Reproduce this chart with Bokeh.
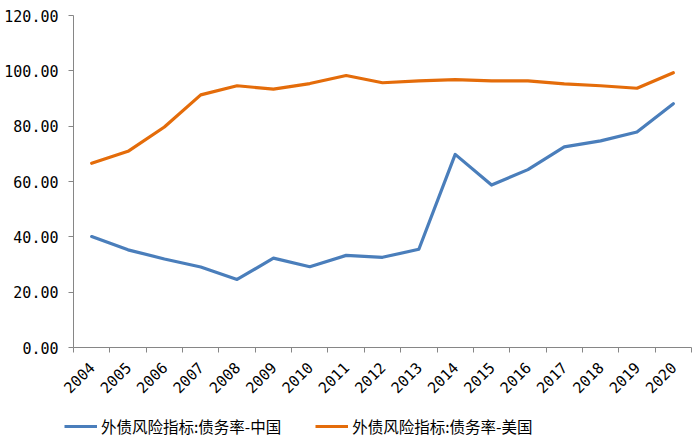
import math
from bokeh.plotting import figure
from bokeh.models import FixedTicker, Range1d, Legend, LegendItem, PrintfTickFormatter
from bokeh.embed import file_html
from bokeh.resources import INLINE

years = ["2004", "2005", "2006", "2007", "2008", "2009", "2010", "2011", "2012",
         "2013", "2014", "2015", "2016", "2017", "2018", "2019", "2020"]
china = [40.1, 35.3, 32.0, 29.1, 24.6, 32.3, 29.2, 33.3, 32.6, 35.5, 69.8, 58.7,
         64.3, 72.5, 74.7, 77.9, 88.1]
usa = [66.6, 70.9, 79.7, 91.3, 94.6, 93.4, 95.4, 98.3, 95.7, 96.4, 96.8, 96.4,
       96.4, 95.3, 94.6, 93.7, 99.3]
series_names = ["外债风险指标:债务率-中国", "外债风险指标:债务率-美国"]
y_ticks = [0, 20, 40, 60, 80, 100, 120]

FONT = "Noto Sans CJK SC"
NUM_FONT = "DejaVu Sans Mono"
AXIS_COLOR = "#868686"
BLUE = "#4A7EBB"
ORANGE = "#E46C0A"

xs = [i + 0.5 for i in range(len(years))]

p = figure(width=700, height=405, output_backend="svg", toolbar_location=None,
           x_range=Range1d(0, len(years)), y_range=Range1d(0, 120),
           min_border_left=73, min_border_right=9, min_border_top=15,
           min_border_bottom=58)
p.outline_line_color = None
p.xgrid.grid_line_color = None
p.ygrid.grid_line_color = None

p.line(xs, china, line_color=BLUE, line_width=3.2, line_join="round", line_cap="round")
p.line(xs, usa, line_color=ORANGE, line_width=3.2, line_join="round", line_cap="round")

# x axis
p.xaxis.ticker = FixedTicker(ticks=xs, minor_ticks=list(range(len(years) + 1)))
p.xaxis.major_label_overrides = {x: y for x, y in zip(xs, years)}
p.xaxis.major_label_orientation = math.pi / 4
p.xaxis.major_tick_line_color = None
p.xaxis.major_tick_out = 0
p.xaxis.major_tick_in = 0
p.xaxis.minor_tick_out = 5
p.xaxis.minor_tick_in = 0
p.xaxis.minor_tick_line_color = AXIS_COLOR
p.xaxis.axis_line_color = AXIS_COLOR
p.xaxis.major_label_text_font = NUM_FONT
p.xaxis.major_label_text_font_size = "15px"
p.xaxis.major_label_text_color = "#000000"
p.xaxis.major_label_standoff = 12

# y axis
p.yaxis.ticker = FixedTicker(ticks=y_ticks)
p.yaxis.formatter = PrintfTickFormatter(format="%.2f")
p.yaxis.major_tick_out = 5
p.yaxis.major_tick_in = 0
p.yaxis.minor_tick_line_color = None
p.yaxis.major_tick_line_color = AXIS_COLOR
p.yaxis.axis_line_color = AXIS_COLOR
p.yaxis.major_label_text_font = NUM_FONT
p.yaxis.major_label_text_font_size = "15px"
p.yaxis.major_label_text_color = "#000000"
p.yaxis.major_label_standoff = 10

# legend strip (series drawn far outside its visible range; only the legend shows)
lg = figure(width=700, height=42, output_backend="svg", toolbar_location=None,
            x_range=Range1d(0, 1), y_range=Range1d(1000, 1001),
            x_axis_type=None, y_axis_type=None,
            min_border=0, min_border_left=0, min_border_right=0,
            min_border_top=0, min_border_bottom=0)
lg.outline_line_color = None
r1 = lg.line(xs, china, line_color=BLUE, line_width=3.2)
r2 = lg.line(xs, usa, line_color=ORANGE, line_width=3.2)
legend = Legend(items=[LegendItem(label=series_names[0], renderers=[r1]),
                       LegendItem(label=series_names[1], renderers=[r2])],
                orientation="horizontal", location=(64, 10),
                border_line_color=None, background_fill_alpha=0,
                label_text_font=FONT, label_text_font_size="15.5px",
                label_text_color="#000000",
                glyph_width=33, spacing=34, padding=0, margin=0,
                label_standoff=4)
lg.add_layout(legend, "center")

open("out.html", "w").write(file_html([p, lg], INLINE))
